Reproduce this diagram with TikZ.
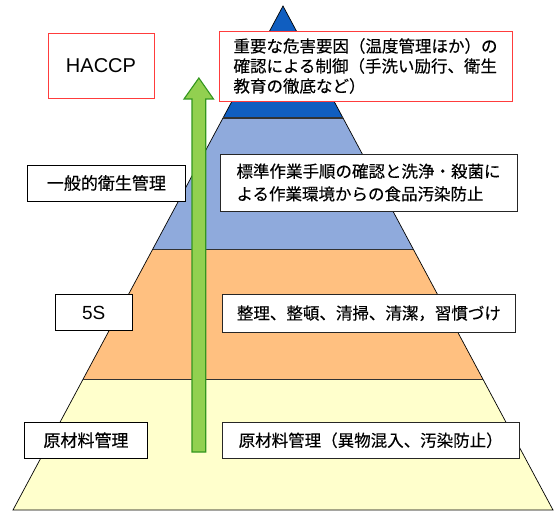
\documentclass[tikz,border=0pt]{standalone}
\usepackage{fontspec}
\setmainfont{Noto Sans CJK JP}[FakeBold=0.3]
\newfontfamily\latinsans{Liberation Sans}
\definecolor{topblue}{RGB}{16,94,192}
\definecolor{midblue}{RGB}{143,170,220}
\definecolor{orangeband}{RGB}{255,192,128}
\definecolor{yellowband}{RGB}{255,255,204}
\definecolor{arrowgreen}{RGB}{146,208,80}
\definecolor{arrowedge}{RGB}{51,150,30}
\definecolor{redline}{RGB}{255,60,60}
\definecolor{bandline}{RGB}{50,50,50}
\begin{document}
\begin{tikzpicture}[x=1pt,y=-1pt,
  edgeline/.style={draw=black,line width=0.7pt},
  sepline/.style={draw=bandline,line width=1.1pt},
  labelbox/.style={draw=black,fill=white,line width=0.8pt,inner sep=0pt,font=\fontsize{17}{20}\selectfont},
  descbox/.style={draw=black!85,fill=white,line width=0.9pt,inner sep=0pt,font=\fontsize{16.5}{22.7}\selectfont},
  redbox/.style={draw=redline,fill=white,line width=0.8pt,inner sep=0pt},
  arrowshape/.style={fill=arrowgreen,draw=arrowedge,line width=1.1pt,line join=miter}]
\useasboundingbox (0,0) rectangle (557,513);
% pyramid coordinates
\coordinate (apex) at (283,6);
\coordinate (l1) at (223,118);   \coordinate (r1) at (343,118);
\coordinate (l2) at (152.6,249.5); \coordinate (r2) at (413.4,249.5);
\coordinate (l3) at (82.9,379.5);  \coordinate (r3) at (483.1,379.5);
\coordinate (bl) at (13,510);    \coordinate (br) at (553,510);
% bands
\fill[topblue] (apex) -- (r1) -- (l1) -- cycle;
\fill[midblue] (l1) -- (r1) -- (r2) -- (l2) -- cycle;
\fill[orangeband] (l2) -- (r2) -- (r3) -- (l3) -- cycle;
\fill[yellowband] (l3) -- (r3) -- (br) -- (bl) -- cycle;
\draw[edgeline] (bl) -- (apex) -- (br) -- cycle;
\draw[sepline] (l1) -- (r1);
\draw[sepline] (l2) -- (r2);
\draw[sepline] (l3) -- (r3);
% green arrow
\coordinate (sbl) at (192,452);
\coordinate (sbr) at (205.7,452);
\coordinate (shl) at (192,99);
\coordinate (shr) at (205.7,99);
\coordinate (hl) at (184,99);
\coordinate (hr) at (213.5,99);
\coordinate (tip) at (198.85,78);
\draw[arrowshape] (sbl) -- (shl) -- (hl) -- (tip) -- (hr) -- (shr) -- (sbr) -- cycle;
% left labels
\node[redbox,minimum width=106pt,minimum height=65pt,font=\latinsans\fontsize{20}{24}\selectfont] (haccp) at (101,65.8) {HACCP};
\node[labelbox,minimum width=157.3pt,minimum height=36pt] (general) at (106.4,183) {一般的衛生管理};
\node[labelbox,minimum width=77pt,minimum height=36pt,font=\latinsans\fontsize{19}{22}\selectfont] (fives) at (93.7,312.5) {5S};
\node[labelbox,minimum width=123.5pt,minimum height=36pt] (raw) at (86,440.2) {原材料管理};
% right descriptions
\node[redbox,minimum width=293pt,minimum height=70pt,align=left,font=\fontsize{16.5}{20}\selectfont] (desc1) at (365.5,66) {重要な危害要因（温度管理ほか）の\\確認による制御（手洗い励行、衛生\\教育の徹底など）};
\node[descbox,minimum width=297pt,minimum height=57pt,align=left] (desc2) at (368.5,182.5) {標準作業手順の確認と洗浄・殺菌に\\よる作業環境からの食品汚染防止};
\node[descbox,minimum width=292.3pt,minimum height=38pt] (desc3) at (368.9,313.3) {整理、整頓、清掃、清潔，習慣づけ};
\node[descbox,minimum width=296.6pt,minimum height=36pt] (desc4) at (370.7,440.3) {原材料管理（異物混入、汚染防止）};
\end{tikzpicture}
\end{document}
